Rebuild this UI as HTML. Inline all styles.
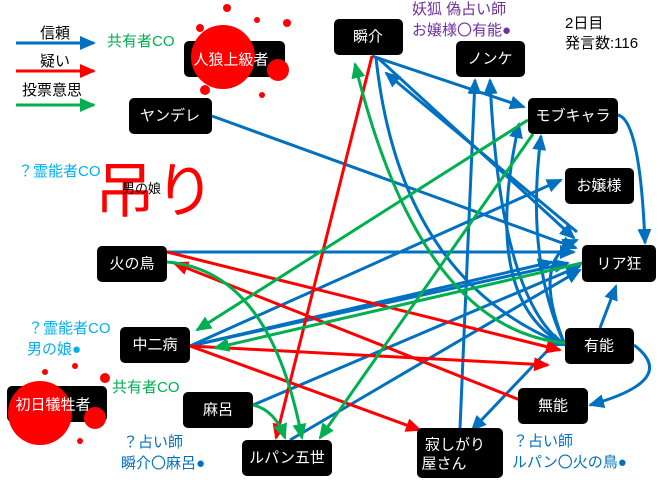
<!DOCTYPE html>
<html><head><meta charset="utf-8"><style>
body{margin:0;background:#fff}
svg{display:block;font-family:"Liberation Sans","Noto Sans CJK JP",sans-serif}
.n{fill:#000}
.t{fill:#fff;font-size:15px;text-anchor:middle;dominant-baseline:central}
</style></head><body>
<svg width="660" height="480" viewBox="0 0 660 480">
<defs>
<marker id="b" markerWidth="16" markerHeight="14" refX="14" refY="7" orient="auto" markerUnits="userSpaceOnUse"><path d="M0,0L16,7L0,14z" fill="#0070C0"/></marker>
<marker id="r" markerWidth="16" markerHeight="14" refX="14" refY="7" orient="auto" markerUnits="userSpaceOnUse"><path d="M0,0L16,7L0,14z" fill="#FF0000"/></marker>
<marker id="g" markerWidth="16" markerHeight="14" refX="14" refY="7" orient="auto" markerUnits="userSpaceOnUse"><path d="M0,0L16,7L0,14z" fill="#00B050"/></marker>
</defs>
<g stroke-width="3" fill="none">
<line x1="16" y1="43" x2="94" y2="43" stroke="#0070C0" marker-end="url(#b)"/>
<line x1="16" y1="71" x2="94" y2="71" stroke="#FF0000" marker-end="url(#r)"/>
<line x1="16" y1="105" x2="94" y2="105" stroke="#00B050" marker-end="url(#g)"/>
</g>
<text x="40" y="38" font-size="15">信頼</text>
<text x="40" y="66" font-size="15">疑い</text>
<text x="22" y="95" font-size="15">投票意思</text>
<text x="107" y="46" font-size="15" fill="#00B050">共有者CO</text>

<g fill="none" stroke-width="3">
<g stroke="#0070C0" marker-end="url(#b)">
<line x1="212" y1="116" x2="576" y2="248"/>
<line x1="167" y1="252" x2="574" y2="252"/>
<line x1="372" y1="56" x2="524" y2="107"/>
<line x1="577" y1="232" x2="386" y2="73"/>
<line x1="378" y1="58" x2="574" y2="238"/>
<path d="M376,58 Q400,280 565,345"/>
<path d="M618,115 Q640,120 645,243"/>
<line x1="190" y1="346" x2="561" y2="180"/>
<line x1="190" y1="346" x2="552" y2="262"/>
<line x1="190" y1="346" x2="568" y2="263"/>
<line x1="253" y1="405" x2="580" y2="266"/>
<line x1="290" y1="440" x2="580" y2="270"/>
<line x1="460" y1="428" x2="475" y2="80"/>
<path d="M565,345 Q500,300 490,80"/>
<path d="M565,345 Q480,300 519,124"/>
<path d="M565,345 Q525,260 541,136"/>
<path d="M565,345 Q530,260 577,240"/>
<line x1="600" y1="328" x2="616" y2="286"/>
<path d="M634,345 Q680,380 590,405"/>
<line x1="548" y1="350" x2="472" y2="430"/>
</g>
<g stroke="#FF0000" marker-end="url(#r)">
<line x1="372" y1="56" x2="276" y2="438"/>
<line x1="167" y1="252" x2="560" y2="350"/>
<line x1="520" y1="400" x2="174" y2="263"/>
<line x1="190" y1="346" x2="548" y2="365"/>
<line x1="190" y1="346" x2="420" y2="430"/>
</g>
<g stroke="#00B050" marker-end="url(#g)">
<path d="M167,262 Q270,270 302,438"/>
<line x1="528" y1="120" x2="197" y2="330"/>
<line x1="533" y1="134" x2="320" y2="438"/>
<path d="M566,343 Q420,330 355,64"/>
<line x1="582" y1="263" x2="215" y2="348"/>
<path d="M253,405 Q275,410 285,438"/>
</g>
</g>

<rect class="n" x="184" y="41" width="101" height="36" rx="5"/>
<rect class="n" x="129" y="98" width="83" height="36" rx="5"/><text class="t" x="170" y="116">ヤンデレ</text>
<rect class="n" x="334" y="19" width="69" height="36" rx="5"/><text class="t" x="368" y="37">瞬介</text>
<rect class="n" x="456" y="41" width="69" height="36" rx="5"/><text class="t" x="490" y="59">ノンケ</text>
<rect class="n" x="528" y="98" width="90" height="36" rx="5"/><text class="t" x="573" y="116">モブキャラ</text>
<rect class="n" x="565" y="168" width="69" height="36" rx="5"/><text class="t" x="599" y="186">お嬢様</text>
<rect class="n" x="582" y="245" width="74" height="37" rx="5"/><text class="t" x="619" y="264">リア狂</text>
<rect class="n" x="565" y="328" width="69" height="36" rx="5"/><text class="t" x="599" y="346">有能</text>
<rect class="n" x="518" y="388" width="70" height="36" rx="5"/><text class="t" x="553" y="406">無能</text>
<rect class="n" x="417" y="428" width="86" height="50" rx="5"/><text class="t" x="455" y="445">寂しがり</text><text class="t" x="444" y="464">屋さん</text>
<rect class="n" x="242" y="440" width="90" height="36" rx="5"/><text class="t" x="287" y="458">ルパン五世</text>
<rect class="n" x="183" y="392" width="70" height="36" rx="5"/><text class="t" x="218" y="410">麻呂</text>
<rect class="n" x="120" y="327" width="70" height="36" rx="5"/><text class="t" x="155" y="345">中二病</text>
<rect class="n" x="97" y="246" width="70" height="36" rx="5"/><text class="t" x="132" y="264">火の鳥</text>
<rect class="n" x="7" y="386" width="100" height="36" rx="5"/>

<g fill="#FF0000">
<circle cx="223" cy="57" r="32"/><circle cx="278" cy="70" r="11"/><circle cx="227" cy="8" r="4"/><circle cx="257" cy="20" r="3"/><circle cx="287" cy="23" r="4"/><circle cx="262" cy="95" r="3"/><circle cx="205" cy="90" r="5"/><circle cx="200" cy="28" r="4"/>
<circle cx="40" cy="413" r="32"/><circle cx="95" cy="418" r="11"/><circle cx="75" cy="366" r="3"/><circle cx="105" cy="378" r="5"/><circle cx="80" cy="441" r="3"/><circle cx="45" cy="372" r="3"/>
</g>
<text class="t" x="231" y="60">人狼上級者</text>
<text class="t" x="53" y="405">初日犠牲者</text>

<text x="95" y="212" font-size="60" fill="#FF0000">吊り</text>
<text x="122" y="193" font-size="13">男の娘</text>
<text x="18" y="176" font-size="15" fill="#00B0F0">？霊能者CO</text>
<text x="28" y="333" font-size="15" fill="#00B0F0">？霊能者CO</text>
<text x="27" y="354" font-size="15" fill="#00B0F0">男の娘●</text>
<text x="112" y="392" font-size="15" fill="#00B050">共有者CO</text>
<text x="123" y="447" font-size="15" fill="#0070C0">？占い師</text>
<text x="121" y="468" font-size="15" fill="#0070C0">瞬介〇麻呂●</text>
<text x="513" y="446" font-size="15" fill="#0070C0">？占い師</text>
<text x="512" y="467" font-size="15" fill="#0070C0">ルパン〇火の鳥●</text>
<text x="412" y="14" font-size="15" fill="#7030A0">妖狐 偽占い師</text>
<text x="412" y="35" font-size="15" fill="#7030A0">お嬢様〇有能●</text>
<text x="565" y="28" font-size="15">2日目</text>
<text x="565" y="48" font-size="15">発言数:116</text>
</svg>
</body></html>
